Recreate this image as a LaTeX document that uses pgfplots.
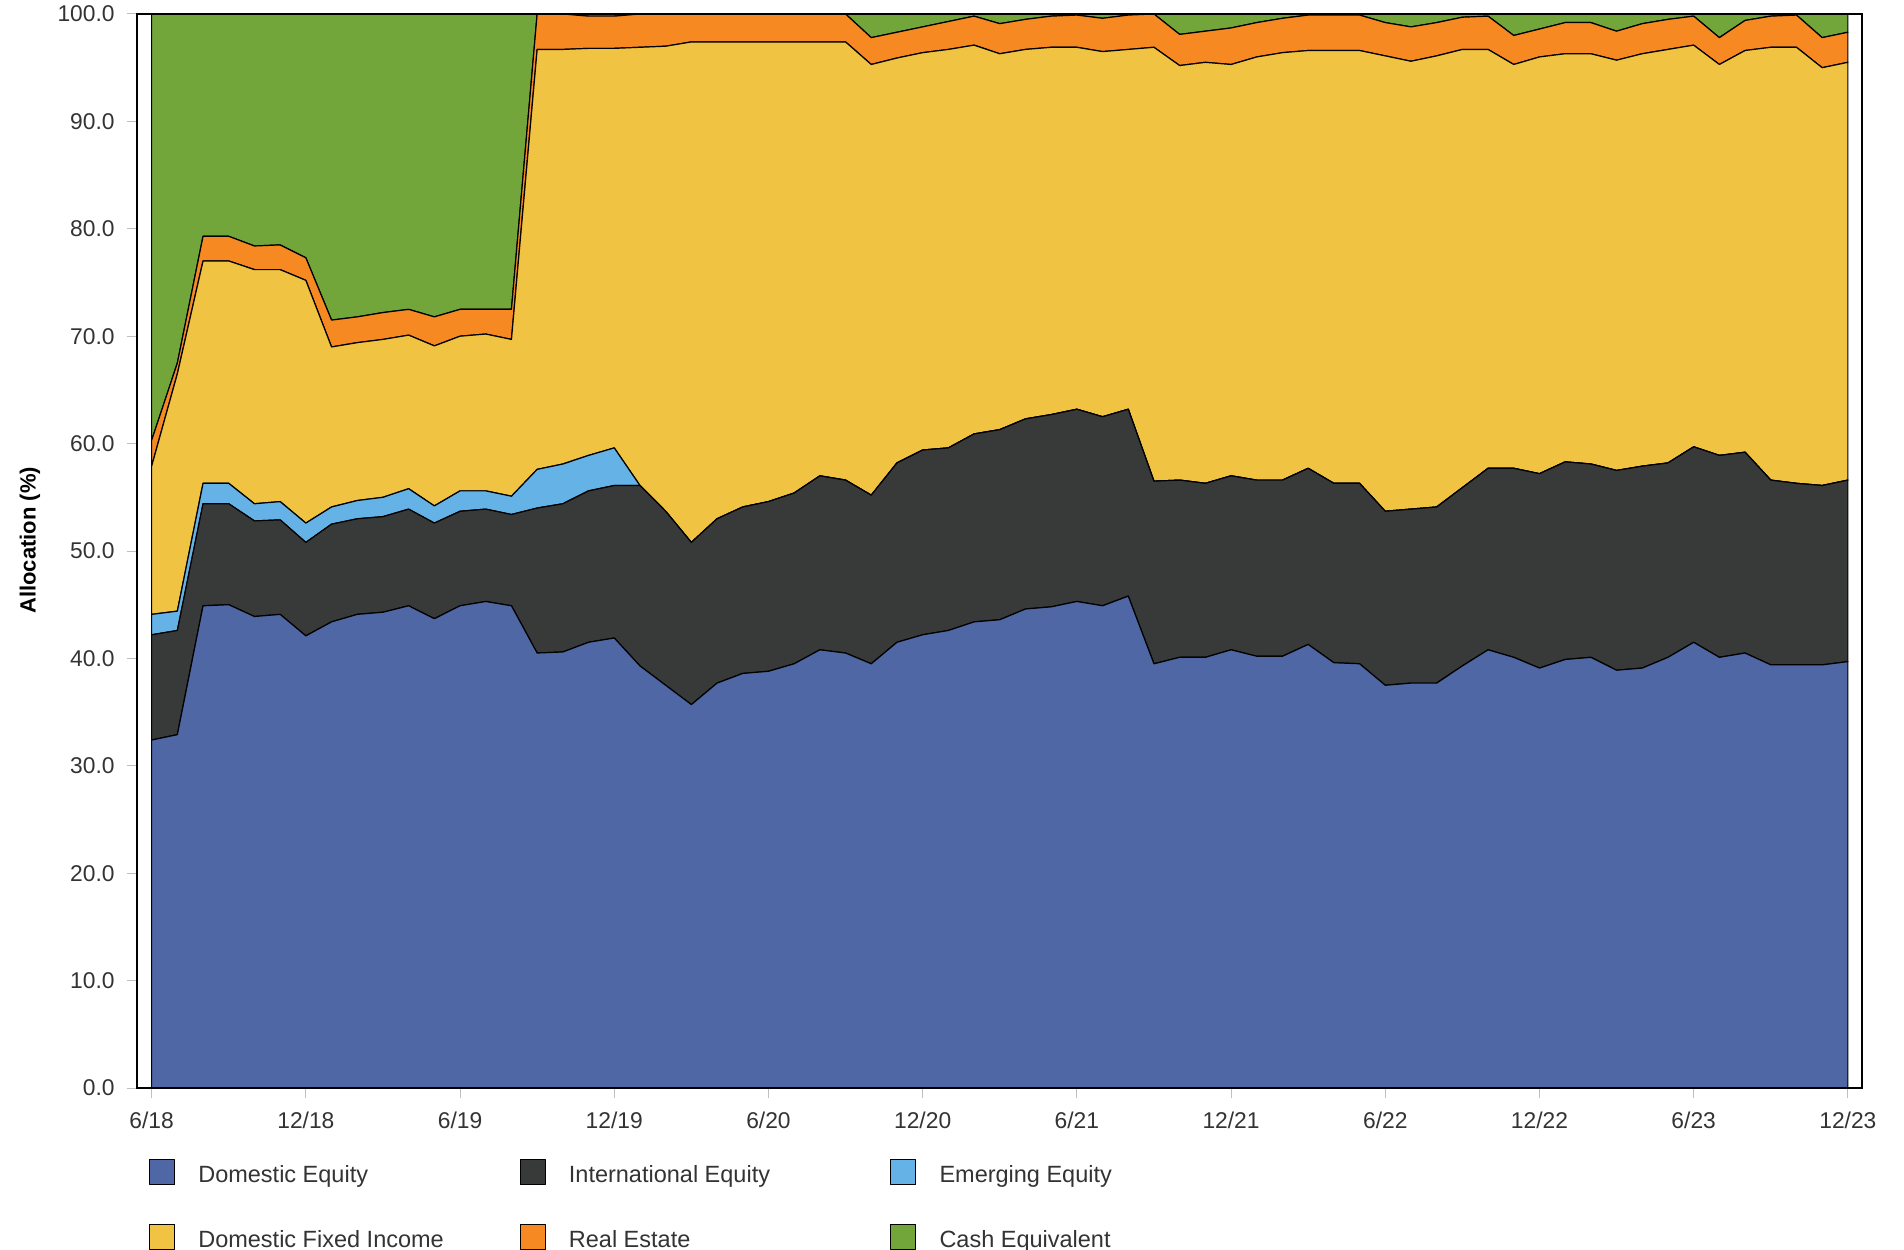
\documentclass[border=0pt]{standalone}
\usepackage{fontspec}
\setmainfont{Liberation Sans}
\usepackage{pgfplots}
\usepackage{pgfplotstable}
\pgfplotsset{compat=1.18}

\definecolor{domeq}{HTML}{4F67A5}
\definecolor{inteq}{HTML}{383939}
\definecolor{emeq}{HTML}{64B2E6}
\definecolor{domfi}{HTML}{F1C343}
\definecolor{reest}{HTML}{F68922}
\definecolor{cash}{HTML}{72A63B}
\definecolor{labelgray}{HTML}{333333}

% month index (0 = 6/18 ... 66 = 12/23), allocation in %
\pgfplotstableread{
m  DE   IE   EM  FI   RE  CA
0  32.4 9.8  1.9 13.8 2.4 39.7
1  32.9 9.7  1.8 22.1 1.0 32.5
2  44.9 9.5  1.9 20.7 2.3 20.7
3  45.0 9.4  1.9 20.7 2.3 20.7
4  43.9 8.9  1.6 21.8 2.2 21.6
5  44.1 8.8  1.7 21.6 2.3 21.5
6  42.1 8.7  1.8 22.6 2.1 22.7
7  43.4 9.1  1.6 14.9 2.5 28.5
8  44.1 8.9  1.7 14.7 2.4 28.2
9  44.3 8.9  1.8 14.7 2.5 27.8
10 44.9 9.0  1.9 14.3 2.4 27.5
11 43.7 8.9  1.6 14.9 2.7 28.2
12 44.9 8.8  1.9 14.4 2.5 27.5
13 45.3 8.6  1.7 14.6 2.3 27.5
14 44.9 8.5  1.7 14.6 2.8 27.5
15 40.5 13.5 3.6 39.1 3.3 0.0
16 40.6 13.8 3.7 38.6 3.3 0.0
17 41.5 14.1 3.3 37.9 3.0 0.2
18 41.9 14.2 3.5 37.2 3.0 0.2
19 39.3 16.8 0.0 40.8 3.1 0.0
20 37.5 16.2 0.0 43.3 3.0 0.0
21 35.7 15.1 0.0 46.6 2.6 0.0
22 37.7 15.3 0.0 44.4 2.6 0.0
23 38.6 15.5 0.0 43.3 2.6 0.0
24 38.8 15.8 0.0 42.8 2.6 0.0
25 39.5 15.9 0.0 42.0 2.6 0.0
26 40.8 16.2 0.0 40.4 2.6 0.0
27 40.5 16.1 0.0 40.8 2.6 0.0
28 39.5 15.7 0.0 40.1 2.5 2.2
29 41.5 16.7 0.0 37.7 2.4 1.7
30 42.2 17.2 0.0 37.0 2.4 1.2
31 42.6 17.0 0.0 37.1 2.6 0.7
32 43.4 17.5 0.0 36.2 2.7 0.2
33 43.6 17.7 0.0 35.0 2.8 0.9
34 44.6 17.7 0.0 34.4 2.8 0.5
35 44.8 17.9 0.0 34.2 2.9 0.2
36 45.3 17.9 0.0 33.7 3.0 0.1
37 44.9 17.6 0.0 34.0 3.1 0.4
38 45.8 17.4 0.0 33.5 3.2 0.1
39 39.5 17.0 0.0 40.4 3.1 0.0
40 40.1 16.5 0.0 38.6 2.9 1.9
41 40.1 16.2 0.0 39.2 2.9 1.6
42 40.8 16.2 0.0 38.3 3.4 1.3
43 40.2 16.4 0.0 39.4 3.2 0.8
44 40.2 16.4 0.0 39.8 3.2 0.4
45 41.3 16.4 0.0 38.9 3.3 0.1
46 39.6 16.7 0.0 40.3 3.3 0.1
47 39.5 16.8 0.0 40.3 3.3 0.1
48 37.5 16.2 0.0 42.4 3.1 0.8
49 37.7 16.2 0.0 41.7 3.2 1.2
50 37.7 16.4 0.0 42.0 3.1 0.8
51 39.3 16.6 0.0 40.8 3.0 0.3
52 40.8 16.9 0.0 39.0 3.1 0.2
53 40.1 17.6 0.0 37.6 2.7 2.0
54 39.1 18.1 0.0 38.8 2.6 1.4
55 39.9 18.4 0.0 38.0 2.9 0.8
56 40.1 18.0 0.0 38.2 2.9 0.8
57 38.9 18.6 0.0 38.2 2.7 1.6
58 39.1 18.8 0.0 38.4 2.8 0.9
59 40.1 18.1 0.0 38.5 2.8 0.5
60 41.5 18.2 0.0 37.4 2.7 0.2
61 40.1 18.8 0.0 36.4 2.5 2.2
62 40.5 18.7 0.0 37.4 2.8 0.6
63 39.4 17.2 0.0 40.3 2.9 0.2
64 39.4 16.9 0.0 40.6 3.0 0.1
65 39.4 16.7 0.0 38.9 2.8 2.2
66 39.7 16.9 0.0 38.9 2.8 1.7
}\alloc

\begin{document}
\begin{tikzpicture}
\path[use as bounding box] (0,0) rectangle (952pt,624.5pt);
\begin{axis}[
    at={(68.5pt,80.5pt)}, anchor=south west,
    width=862.5pt, height=537pt, scale only axis,
    xmin=-0.57, xmax=66.55,
    ymin=0, ymax=100,
    stack plots=y,
    axis on top,
    axis line style={black, line width=0.8pt},
    tick pos=left, tick align=outside,
    major tick length=5pt,
    tick style={draw=black!25, line width=0.5pt},
    xtick={0,6,...,66},
    xticklabels={6/18,12/18,6/19,12/19,6/20,12/20,6/21,12/21,6/22,12/22,6/23,12/23},
    ytick={0,10,...,100},
    yticklabel={\pgfmathprintnumber[fixed,fixed zerofill,precision=1,assume math mode=true]{\tick}},
    ticklabel style={font=\fontsize{11.4pt}{13pt}\selectfont, text=labelgray},
    yticklabel style={inner sep=0pt, xshift=-6pt},
    xticklabel style={inner sep=0pt, yshift=-7pt},
    ylabel={Allocation (\%)},
    ylabel style={font=\bfseries\fontsize{11pt}{13pt}\selectfont, at={(axis description cs:-0.062,0.51)}, anchor=center},
    legend columns=3,
    legend cell align=left,
    legend style={draw=none, fill=none, inner sep=0pt, outer sep=0pt,
        column sep=0pt, row sep=19.25pt,
        at={(axis description cs:0.00696,-0.0661)}, anchor=north west,
        nodes={inner sep=0pt, outer sep=0pt, text depth=0pt, text height=0pt,
            font=\fontsize{11.75pt}{14pt}\selectfont, text=labelgray}},
    legend image code/.code={
        \path[draw=none, fill=none] (0pt,0pt) -- (24.35pt,0pt);
        \path[#1, draw=black, line width=0.6pt] (0pt,-1.15pt) rectangle (12.5pt,11.35pt);},
    every axis plot/.append style={draw=black, line width=0.6pt, line join=round},
]
\addplot[fill=domeq] table[x=m, y=DE] {\alloc} \closedcycle;
\addlegendentry{\makebox[160.65pt][l]{Domestic Equity}}
\addplot[fill=inteq] table[x=m, y=IE] {\alloc} \closedcycle;
\addlegendentry{\makebox[160.65pt][l]{International Equity}}
\addplot[fill=emeq] table[x=m, y=EM] {\alloc} \closedcycle;
\addlegendentry{\makebox[160.65pt][l]{Emerging Equity}}
\addplot[fill=domfi] table[x=m, y=FI] {\alloc} \closedcycle;
\addlegendentry{\makebox[160.65pt][l]{Domestic Fixed Income}}
\addplot[fill=reest] table[x=m, y=RE] {\alloc} \closedcycle;
\addlegendentry{\makebox[160.65pt][l]{Real Estate}}
\addplot[fill=cash] table[x=m, y=CA] {\alloc} \closedcycle;
\addlegendentry{\makebox[160.65pt][l]{Cash Equivalent}}
\end{axis}
\end{tikzpicture}
\end{document}
